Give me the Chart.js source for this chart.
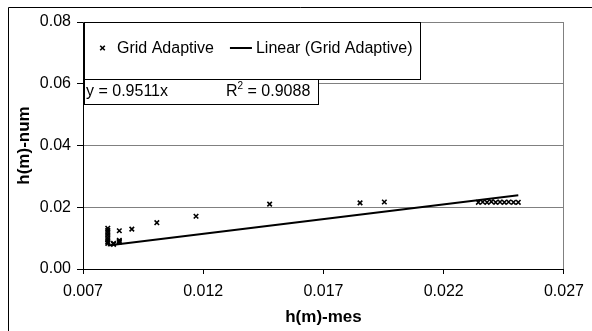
<!DOCTYPE html>
<html><head><meta charset="utf-8">
<script src="https://cdn.jsdelivr.net/npm/chart.js@4.4.1/dist/chart.umd.min.js"></script>
<style>html,body{margin:0;padding:0;background:#fff;}#wrap{width:592px;height:331px;position:relative;}</style>
</head><body><div id="wrap"><canvas id="c" width="592" height="331"></canvas></div>
<script>
const seriesName = 'Grid Adaptive';
const trendName = 'Linear (Grid Adaptive)';
const xTitle = 'h(m)-mes';
const yTitle = 'h(m)-num';
const hMes = [0.00803,0.00803,0.00803,0.00803,0.00803,0.00803,0.00803,0.00803,
  0.00827,0.00827,
  0.00851,0.00851,0.00851,0.00851,
  0.00903,0.01007,0.01170,0.01476,0.01852,0.01953,
  0.02344,0.02362,0.02380,0.02398,0.02416,0.02434,0.02452,0.02470,0.02490,0.02510];
const hNum = [0.0132,0.0125,0.0118,0.0110,0.0102,0.0095,0.0088,0.0083,
  0.0083,0.0080,
  0.0087,0.0090,0.0093,0.0124,
  0.0129,0.0150,0.0171,0.0210,0.0214,0.0217,
  0.0216,0.0217,0.0216,0.0218,0.0216,0.0217,0.0216,0.0217,0.0216,0.0216];
const trendSlope = 0.9511;
const rSquared = 0.9088;
const xTicks = [0.007,0.012,0.017,0.022,0.027];
const yTicks = [0.00,0.02,0.04,0.06,0.08];

const FONT = '"Liberation Sans", Arial, sans-serif';
const points = hMes.map((x,i)=>({x:x,y:hNum[i]}));
const xMin = Math.min(...hMes), xMax = Math.max(...hMes);
const trendPts = [{x:xMin,y:trendSlope*xMin},{x:xMax,y:trendSlope*xMax}];

function drawX(ctx,cx,cy,s){
  ctx.beginPath();
  ctx.moveTo(cx-s,cy-s);ctx.lineTo(cx+s,cy+s);
  ctx.moveTo(cx+s,cy-s);ctx.lineTo(cx-s,cy+s);
  ctx.stroke();
}

const excelPlugin = {
  id:'excel',
  beforeDraw(chart){
    const ctx=chart.ctx;
    ctx.save();
    ctx.fillStyle='#fff';ctx.fillRect(0,0,chart.width,chart.height);
    ctx.strokeStyle='#000';ctx.lineWidth=1;
    ctx.beginPath();ctx.moveTo(8.5,chart.height);ctx.lineTo(8.5,7.5);ctx.lineTo(chart.width,7.5);ctx.stroke();
    ctx.restore();
  },
  afterDraw(chart){
    const ctx=chart.ctx, a=chart.chartArea;
    ctx.save();
    ctx.strokeStyle='#808080';ctx.lineWidth=1;
    ctx.beginPath();
    ctx.moveTo(Math.round(a.left)+0.5,Math.round(a.top)+0.5);
    ctx.lineTo(Math.round(a.right)-0.5,Math.round(a.top)+0.5);
    ctx.lineTo(Math.round(a.right)-0.5,Math.round(a.bottom));
    ctx.stroke();
    ctx.font='16px '+FONT;
    ctx.textBaseline='middle';
    const ds=chart.data.datasets;
    const lx=Math.round(a.left)+1, ly=Math.round(a.top);
    const t1x=lx+33, lineX0=t1x+ctx.measureText(ds[0].label).width+16;
    const t2x=lineX0+26;
    const lr=Math.round(t2x+ctx.measureText(ds[1].label).width+8);
    const lb=79;
    ctx.fillStyle='#fff';
    ctx.fillRect(lx,ly,lr-lx,lb-ly);
    ctx.strokeStyle='#000';ctx.lineWidth=1;
    ctx.strokeRect(lx+0.5,ly+0.5,lr-lx,lb-ly);
    const my=48;
    ctx.lineWidth=1.6;drawX(ctx,lx+18.5,my,2.3);
    ctx.fillStyle='#000';
    ctx.fillText(ds[0].label,t1x,my+1);
    ctx.lineWidth=2;ctx.beginPath();ctx.moveTo(lineX0,my);ctx.lineTo(lineX0+22,my);ctx.stroke();
    ctx.fillText(ds[1].label,t2x,my+1);
    const ey0=lb, ey1=104, er=318;
    ctx.fillStyle='#fff';ctx.fillRect(lx,ey0,er-lx,ey1-ey0);
    ctx.lineWidth=1;ctx.strokeRect(lx+0.5,ey0+0.5,er-lx,ey1-ey0);
    ctx.fillStyle='#000';
    const ey=92;
    ctx.fillText('y = '+trendSlope.toFixed(4)+'x',lx+2,ey);
    let rx=226;
    ctx.fillText('R',rx,ey);rx+=ctx.measureText('R').width;
    ctx.font='10px '+FONT;ctx.fillText('2',rx,ey-6);rx+=ctx.measureText('2').width;
    ctx.font='16px '+FONT;ctx.fillText(' = '+rSquared.toFixed(4),rx,ey);
    ctx.restore();
  }
};

new Chart(document.getElementById('c'),{
  type:'scatter',
  data:{datasets:[
    {label:seriesName,data:points,pointStyle:'crossRot',pointRadius:3.2,pointBorderWidth:1.6,
     borderColor:'#000',backgroundColor:'#000',showLine:false,order:1},
    {label:trendName,type:'line',data:trendPts,borderColor:'#000',borderWidth:2,pointRadius:0,
     showLine:true,fill:false,tension:0,order:2}
  ]},
  options:{
    responsive:false,animation:false,devicePixelRatio:1,
    layout:{padding:{left:0,top:22,right:20,bottom:0}},
    plugins:{legend:{display:false},tooltip:{enabled:false}},
    scales:{
      x:{type:'linear',min:xTicks[0],max:xTicks[xTicks.length-1],
        afterBuildTicks:s=>{s.ticks=xTicks.map(v=>({value:v}));},
        afterFit:s=>{s.height=62;},
        ticks:{color:'#000',font:{family:FONT,size:16},padding:8,maxRotation:0,
          callback:v=>Number(v).toFixed(3)},
        grid:{drawOnChartArea:false,tickColor:'#000',tickLength:5},
        border:{color:'#000',width:1},
        title:{display:true,text:xTitle,color:'#000',font:{family:FONT,size:17,weight:'bold'},padding:{top:0,bottom:3}}
      },
      y:{type:'linear',min:yTicks[0],max:yTicks[yTicks.length-1],
        afterBuildTicks:s=>{s.ticks=yTicks.map(v=>({value:v}));},
        afterFit:s=>{s.width=83;},
        ticks:{color:'#000',font:{family:FONT,size:16},padding:6,
          callback:v=>Number(v).toFixed(2)},
        grid:{color:c=>(c.tick&&c.tick.value===0)?'rgba(0,0,0,0)':'#808080',tickColor:'#000',tickLength:6,lineWidth:1},
        border:{color:'#000',width:1},
        title:{display:true,text:yTitle,color:'#000',font:{family:FONT,size:17,weight:'bold'},padding:{top:14,bottom:0}}
      }
    }
  },
  plugins:[excelPlugin]
});
</script></body></html>
